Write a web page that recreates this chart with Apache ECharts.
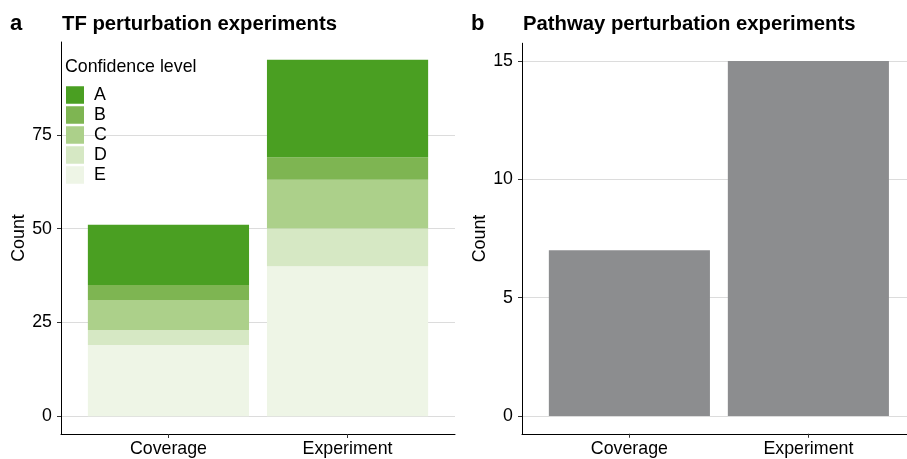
<!DOCTYPE html>
<html>
<head>
<meta charset="utf-8">
<script src="https://cdn.jsdelivr.net/npm/echarts@6/dist/echarts.min.js"></script>
<style>
  html, body { margin: 0; padding: 0; background: #fff; }
  #chart { width: 907px; height: 459px; }
</style>
</head>
<body>
<div id="chart"></div>
<script>
// Categories shared by both panels
const categories = ['Coverage', 'Experiment'];

// Panel a: TF perturbation experiments, counts per confidence level
const levels = ['A', 'B', 'C', 'D', 'E'];
const tfA = [16, 26];
const tfB = [4, 6];
const tfC = [8, 13];
const tfD = [4, 10];
const tfE = [19, 40];

// Panel b: pathway perturbation experiments
const pathwayCounts = [7, 15];

// Tick labels
const tfTicks = [0, 25, 50, 75];
const pathwayTicks = [0, 5, 10, 15];

const levelColors = {
  A: '#4a9f22',
  B: '#7eb552',
  C: '#acd08a',
  D: '#d6e8c4',
  E: '#eef5e6'
};
const levelValues = { A: tfA, B: tfB, C: tfC, D: tfD, E: tfE };

const FONT = '"Liberation Sans", Arial, Helvetica, sans-serif';
const FS = 17.8;

// Panel frames: discrete x scale expanded by 0.6 of a category on each side
const X_MIN = 0.4;
const panels = [
  { left: 61, top: 42, width: 394, height: 392, xMax: 2.6, yMin: -4.75, yMax: 99.75, ticks: tfTicks },
  { left: 522, top: 43.25, width: 385, height: 390.5, xMax: 2.551, yMin: -0.75, yMax: 15.75, ticks: pathwayTicks }
];

function frameGrid(p) {
  return { left: p.left, top: p.top, width: p.width, height: p.height, outerBoundsMode: 'none', containLabel: false };
}
// Bar grid: the category bands [0.5, 2.5] inside the frame
function barGrid(p) {
  const unit = p.width / (p.xMax - X_MIN);
  return {
    left: p.left + (0.5 - X_MIN) * unit, top: p.top, width: 2 * unit, height: p.height,
    outerBoundsMode: 'none', containLabel: false
  };
}

function frameXAxis(gridIndex, p) {
  return {
    type: 'value', gridIndex: gridIndex, min: X_MIN, max: p.xMax,
    splitLine: { show: false },
    axisLine: { show: true, onZero: false, lineStyle: { color: '#000', width: 1 } },
    axisTick: { show: true, customValues: [1, 2], length: 4, lineStyle: { color: '#333' } },
    axisLabel: {
      customValues: [1, 2],
      formatter: v => categories[Math.round(v) - 1],
      color: '#000', fontSize: FS, fontFamily: FONT, margin: 6
    }
  };
}
function frameYAxis(gridIndex, p) {
  return {
    type: 'value', gridIndex: gridIndex, min: p.yMin, max: p.yMax,
    name: 'Count', nameLocation: 'middle', nameGap: 32,
    nameTextStyle: { color: '#000', fontSize: FS, fontFamily: FONT },
    axisLine: { show: true, onZero: false, lineStyle: { color: '#000', width: 1 } },
    axisTick: { show: true, customValues: p.ticks, length: 4, lineStyle: { color: '#333' } },
    axisLabel: { customValues: p.ticks, color: '#000', fontSize: FS, fontFamily: FONT, margin: 9 },
    splitLine: { show: true, lineStyle: { color: '#dcdcdc', width: 1 } }
  };
}
function barXAxis(gridIndex) {
  return { type: 'category', gridIndex: gridIndex, data: categories, show: false, boundaryGap: true };
}
function barYAxis(gridIndex, p) {
  return { type: 'value', gridIndex: gridIndex, min: p.yMin, max: p.yMax, show: false, splitLine: { show: false } };
}

// Stack from the bottom up: E first, A on top
const stackOrder = ['E', 'D', 'C', 'B', 'A'];
const tfSeries = stackOrder.map(lv => ({
  name: lv,
  type: 'bar',
  xAxisIndex: 1,
  yAxisIndex: 1,
  stack: 'tf',
  barWidth: '90%',
  itemStyle: { color: levelColors[lv] },
  data: levelValues[lv]
}));

const titleStyle = size => ({ fontSize: size, fontWeight: 'bold', color: '#000', fontFamily: FONT });

const option = {
  animation: false,
  backgroundColor: '#fff',
  textStyle: { fontFamily: FONT },
  title: [
    { text: 'a', left: 10, top: 13, padding: 0, textStyle: titleStyle(22) },
    { text: 'TF perturbation experiments', left: 62, top: 14, padding: 0, textStyle: titleStyle(20.3) },
    { text: 'b', left: 471, top: 13, padding: 0, textStyle: titleStyle(22) },
    { text: 'Pathway perturbation experiments', left: 523, top: 14, padding: 0, textStyle: titleStyle(20.3) }
  ],
  legend: {
    data: levels,
    orient: 'vertical',
    left: 66,
    top: 86,
    padding: 0,
    itemWidth: 18,
    itemHeight: 17.5,
    itemGap: 2,
    icon: 'rect',
    selectedMode: false,
    textStyle: { color: '#000', fontSize: FS, fontFamily: FONT, padding: [0, 0, 0, 5] }
  },
  graphic: [
    { type: 'text', left: 65, top: 58, style: { text: 'Confidence level', fill: '#000', font: FS + 'px ' + FONT } }
  ],
  grid: [frameGrid(panels[0]), barGrid(panels[0]), frameGrid(panels[1]), barGrid(panels[1])],
  xAxis: [frameXAxis(0, panels[0]), barXAxis(1), frameXAxis(2, panels[1]), barXAxis(3)],
  yAxis: [frameYAxis(0, panels[0]), barYAxis(1, panels[0]), frameYAxis(2, panels[1]), barYAxis(3, panels[1])],
  series: tfSeries.concat([{
    name: 'Pathway',
    type: 'bar',
    xAxisIndex: 3,
    yAxisIndex: 3,
    barWidth: '90%',
    itemStyle: { color: '#8c8d8f' },
    data: pathwayCounts
  }])
};

const chart = echarts.init(document.getElementById('chart'), null, { renderer: 'canvas' });
chart.setOption(option);
</script>
</body>
</html>
